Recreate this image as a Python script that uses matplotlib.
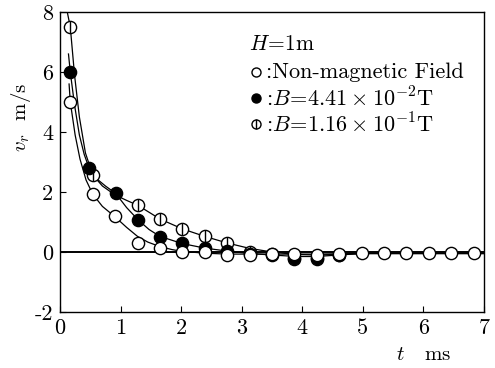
import matplotlib
matplotlib.use("Agg")
from matplotlib import pyplot as plt

plt.rcParams['font.family'] = ['cmr10', 'DejaVu Serif']
plt.rcParams['mathtext.fontset'] = 'cm'
plt.rcParams['axes.unicode_minus'] = False

# measured points (t in ms, v_r in m/s)
t_open = [0.17, 0.54, 0.91, 1.28, 1.65, 2.02, 2.39, 2.76, 3.13, 3.50, 3.87, 4.24, 4.61,
          4.98, 5.35, 5.72, 6.09, 6.46, 6.83]
v_open = [5.0, 1.93, 1.2, 0.3, 0.13, 0.0, 0.0, -0.1, -0.1, -0.07, -0.07, -0.1, -0.07,
          -0.05, -0.05, -0.05, -0.05, -0.05, -0.05]

t_low = [0.17, 0.48, 0.92, 1.29, 1.65, 2.02, 2.39, 2.76, 3.13, 3.50, 3.87, 4.24, 4.61]
v_low = [6.0, 2.8, 1.97, 1.07, 0.5, 0.3, 0.13, 0.03, -0.07, -0.1, -0.2, -0.2, -0.1]

t_high = [0.17, 0.54, 1.29, 1.65, 2.02, 2.39, 2.76, 3.13, 3.50, 3.87, 4.24, 4.61]
v_high = [7.5, 2.57, 1.57, 1.1, 0.77, 0.53, 0.3, 0.0, -0.07, -0.25, -0.22, -0.1]

# fitted curves
ct_open = [0.15, 0.17, 0.25, 0.33, 0.43, 0.54, 0.7, 0.91, 1.1, 1.28, 1.45, 1.65, 1.85, 2.02, 2.4, 2.76, 3.5, 4.2, 5.0, 7.0]
cv_open = [5.6, 5.0, 3.9, 3.1, 2.4, 1.93, 1.52, 1.17, 0.82, 0.52, 0.33, 0.18, 0.08, 0.02, -0.04, -0.07, -0.07, -0.07, -0.05, -0.05]

ct_low = [0.14, 0.17, 0.24, 0.32, 0.4, 0.48, 0.6, 0.75, 0.92, 1.1, 1.29, 1.47, 1.65, 2.02, 2.39, 2.76, 3.13, 3.5, 3.9, 4.24, 4.6, 5.0, 7.0]
cv_low = [6.6, 6.0, 4.9, 3.9, 3.25, 2.8, 2.45, 2.2, 1.95, 1.48, 1.07, 0.75, 0.52, 0.28, 0.13, 0.03, -0.05, -0.1, -0.15, -0.15, -0.1, -0.05, -0.05]

ct_high = [0.12, 0.17, 0.24, 0.32, 0.42, 0.54, 0.7, 0.91, 1.1, 1.29, 1.65, 2.02, 2.39, 2.76, 3.13, 3.5, 3.87, 4.24, 4.6, 5.0, 7.0]
cv_high = [8.0, 7.5, 5.9, 4.5, 3.3, 2.57, 2.2, 1.9, 1.72, 1.55, 1.1, 0.77, 0.52, 0.3, 0.12, 0.0, -0.08, -0.1, -0.08, -0.05, -0.05]

xticks = [0, 1, 2, 3, 4, 5, 6, 7]
yticks = [-2, 0, 2, 4, 6, 8]

fig = plt.figure(figsize=(4.95, 3.68), dpi=100)
ax = fig.add_axes([0.1212, 0.1522, 0.8566, 0.8152])

ax.axhline(0, color='black', lw=1.4, zorder=1)
for ct, cv in [(ct_open, cv_open), (ct_low, cv_low), (ct_high, cv_high)]:
    ax.plot(ct, cv, color='black', lw=0.9, zorder=2)

ms = 8.8
mew = 1.0
ax.plot(t_high, v_high, 'o', ms=ms, mfc='white', mec='black', mew=mew, zorder=3)
ax.plot(t_high, v_high, '|', ms=ms, mec='black', mew=mew, zorder=4)
ax.plot(t_low, v_low, 'o', ms=ms, mfc='black', mec='black', mew=mew, zorder=5)
ax.plot(t_open, v_open, 'o', ms=ms, mfc='white', mec='black', mew=mew, zorder=6)

ax.set_xlim(0, 7)
ax.set_ylim(-2, 8)
ax.set_xticks(xticks)
ax.set_xticklabels([str(x) for x in xticks])
ax.set_yticks(yticks)
ax.set_yticklabels([str(y) for y in yticks])
ax.tick_params(direction='in', length=4, width=0.8, labelsize=16, pad=5)
for s in ax.spines.values():
    s.set_linewidth(1.0)

fig.text(0.042, 0.68, r'$v_r$  m/s', rotation=90, fontsize=15, ha='center', va='center')
fig.text(0.855, 0.035, r'$t$   ms', fontsize=15, ha='center', va='center')

# legend block
fig.text(249 / 495, 1 - 44 / 368, r'$H\!=\!1\mathrm{m}$', fontsize=15.5, ha='left', va='center')
rows = [r':Non-magnetic Field', r':$B\!=\!4.41\times10^{-2}\mathrm{T}$',
        r':$B\!=\!1.16\times10^{-1}\mathrm{T}$']
ys = [72, 98, 124]
for i, (txt, y) in enumerate(zip(rows, ys)):
    fy = 1 - y / 368
    fig.text(266 / 495, fy, txt, fontsize=16, ha='left', va='center')
    fc = 'black' if i == 1 else 'white'
    fig.lines.append(plt.Line2D([256 / 495], [fy], marker='o', ms=6.5, mfc=fc, mec='black',
                                mew=1.0, transform=fig.transFigure))
    if i == 2:
        fig.lines.append(plt.Line2D([256 / 495], [fy], marker='|', ms=6.5, mec='black',
                                    mew=1.0, transform=fig.transFigure))

fig.savefig('out.png', dpi=100)
